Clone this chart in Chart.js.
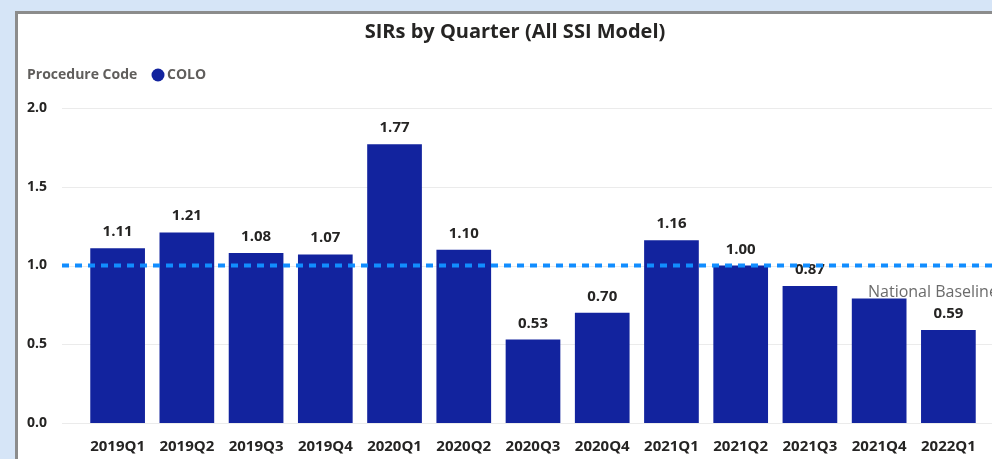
<!DOCTYPE html>
<html>
<head>
<meta charset="utf-8">
<title>SIRs by Quarter</title>
<script src="https://cdn.jsdelivr.net/npm/chart.js@4.4.1/dist/chart.umd.min.js"></script>
<style>
  html, body { margin: 0; padding: 0; width: 992px; height: 459px; overflow: hidden; background: #d6e5f7; }
  body { position: relative; }
  #panel { position: absolute; left: 15px; top: 11px; right: 0; bottom: 0; background: #fff;
           border-left: 3px solid #8c8c8c; border-top: 3px solid #8c8c8c; }
  #grafica { position: absolute; left: 0; top: 0; }
</style>
</head>
<body>
<div id="panel"></div>
<canvas id="grafica" width="992" height="459"></canvas>
<script>
const categories = ['2019Q1', '2019Q2', '2019Q3', '2019Q4', '2020Q1', '2020Q2', '2020Q3',
                    '2020Q4', '2021Q1', '2021Q2', '2021Q3', '2021Q4', '2022Q1'];
const sirValues = [1.11, 1.21, 1.08, 1.07, 1.77, 1.10, 0.53, 0.70, 1.16, 1.00, 0.87, 0.79, 0.59];
// 2021Q4 label is hidden behind the baseline caption in the original
const valueLabels = ['1.11', '1.21', '1.08', '1.07', '1.77', '1.10', '0.53', '0.70', '1.16', '1.00', '0.87', '', '0.59'];
const yTickLabels = ['0.0', '0.5', '1.0', '1.5', '2.0'];
const nationalBaseline = 1.0;

const FONT = "'Open Sans', 'Segoe UI', sans-serif";
const barColor = '#12239E';

const chromePlugin = {
  id: 'chrome',
  beforeDatasetsDraw(chart) {
    const ctx = chart.ctx;
    const y = chart.scales.y;
    ctx.save();
    ctx.strokeStyle = '#ebebeb';
    ctx.lineWidth = 1;
    y.ticks.forEach(t => {
      const py = Math.round(y.getPixelForValue(t.value)) + 0.5;
      ctx.beginPath();
      ctx.moveTo(62, py);
      ctx.lineTo(chart.width, py);
      ctx.stroke();
    });
    ctx.restore();
  },
  afterDatasetsDraw(chart) {
    const ctx = chart.ctx;
    const meta = chart.getDatasetMeta(0);
    ctx.save();
    // value labels
    ctx.font = `bold 15px ${FONT}`;
    ctx.fillStyle = '#252423';
    ctx.textAlign = 'center';
    ctx.textBaseline = 'alphabetic';
    meta.data.forEach((bar, i) => {
      if (valueLabels[i]) ctx.fillText(valueLabels[i], bar.x, bar.y - 12);
    });
    // national baseline
    const ly = chart.scales.y.getPixelForValue(nationalBaseline);
    ctx.strokeStyle = '#118DFF';
    ctx.lineWidth = 4;
    ctx.setLineDash([7, 6]);
    ctx.beginPath();
    ctx.moveTo(62, ly);
    ctx.lineTo(chart.width, ly);
    ctx.stroke();
    ctx.setLineDash([]);
    ctx.font = `16px ${FONT}`;
    ctx.fillStyle = '#6b6b6b';
    ctx.textAlign = 'left';
    ctx.fillText('National Baseline', 868, ly + 31);
    ctx.restore();
  },
  afterDraw(chart) {
    const ctx = chart.ctx;
    ctx.save();
    ctx.textBaseline = 'middle';
    ctx.font = `bold 20px ${FONT}`;
    ctx.fillStyle = '#252423';
    ctx.textAlign = 'center';
    ctx.fillText('SIRs by Quarter (All SSI Model)', 515, 32);
    ctx.textAlign = 'left';
    ctx.font = `bold 14px ${FONT}`;
    ctx.fillStyle = '#605e5c';
    ctx.fillText('Procedure Code', 27, 75);
    ctx.fillStyle = barColor;
    ctx.beginPath();
    ctx.arc(158, 75, 6.5, 0, Math.PI * 2);
    ctx.fill();
    ctx.fillStyle = '#605e5c';
    ctx.fillText('COLO', 167, 75);
    ctx.restore();
  }
};

new Chart(document.getElementById('grafica'), {
  type: 'bar',
  data: {
    labels: categories,
    datasets: [{
      label: 'COLO',
      data: sirValues,
      backgroundColor: barColor,
      borderWidth: 0,
      barPercentage: 0.79,
      categoryPercentage: 1
    }]
  },
  options: {
    responsive: false,
    animation: false,
    layout: { padding: { left: 27, right: 9, top: 108, bottom: 0 } },
    plugins: { legend: { display: false }, title: { display: false }, tooltip: { enabled: false } },
    scales: {
      x: {
        grid: { display: false },
        border: { display: false },
        ticks: { font: { family: FONT, size: 15, weight: 'bold' }, color: '#252423', padding: 7, maxRotation: 0 },
        afterFit(scale) { scale.height = 36; }
      },
      y: {
        min: 0,
        max: 2,
        grid: { display: false },
        border: { display: false },
        ticks: {
          stepSize: 0.5,
          crossAlign: 'far',
          font: { family: FONT, size: 14, weight: 'bold' },
          color: '#252423',
          callback: (v, i) => yTickLabels[i]
        },
        afterFit(scale) { scale.width = 56; }
      }
    }
  },
  plugins: [chromePlugin]
});
</script>
</body>
</html>
